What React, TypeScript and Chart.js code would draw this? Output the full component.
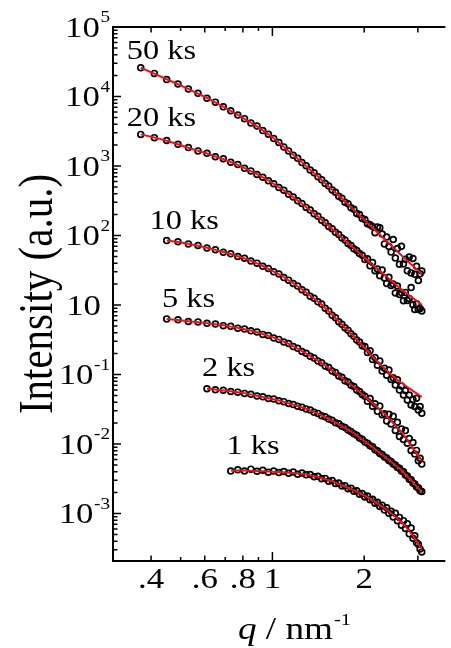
import React, { useEffect, useRef } from 'react';
import { Chart, registerables } from 'chart.js';

Chart.register(...registerables);

// q grid (nm^-1), shared by all series; shorter series are aligned to its end
const Q = [0.37, 0.41, 0.45, 0.49, 0.53, 0.57, 0.61, 0.65, 0.69, 0.73, 0.77, 0.81, 0.85, 0.89, 0.93, 0.97,
  1.01, 1.05, 1.09, 1.13, 1.17, 1.21, 1.25, 1.29, 1.33, 1.37, 1.41, 1.45, 1.49, 1.53, 1.57, 1.61, 1.65,
  1.69, 1.73, 1.77, 1.81, 1.85, 1.89, 1.93, 1.97, 2.01, 2.05, 2.09, 2.13, 2.17, 2.21, 2.25, 2.29, 2.33,
  2.37, 2.41, 2.45, 2.49, 2.53, 2.57, 2.61, 2.65, 2.69, 2.73, 2.77, 2.81, 2.85, 2.89, 2.93, 2.97, 3.01,
  3.05, 3.09];

const OBS_50 = [25900, 21500, 17500, 15100, 12800, 11100, 9450, 8300, 7100, 6250,
  5400, 4800, 4170, 3750, 3230, 2870, 2490, 2180, 1870, 1650,
  1430, 1290, 1120, 1010, 875, 800, 700, 635, 560, 515,
  450, 420, 368, 345, 302, 287, 250, 238, 208, 200,
  176, 170, 148, 143, 135, 110, 133, 129, 105, 75.7,
  95, 69.6, 57.7, 87.8, 47.3, 64.9, 38.6, 70.1, 39.0, 45.7,
  31.0, 49.1, 29.0, 46.8, 27.6, 36.2, 22.5, 28.1, 30.8];
const FIT_50 = [25900, 21300, 17700, 15000, 12900, 11000, 9510, 8260, 7160, 6220,
  5430, 4780, 4200, 3720, 3250, 2850, 2510, 2160, 1880, 1640,
  1450, 1270, 1130, 1000, 885, 791, 706, 629, 566, 508,
  457, 414, 374, 340, 308, 281, 256, 233, 213, 196,
  180, 165, 152, 140, 129, 120, 111, 103, 95.5, 89.1,
  82.8, 77.3, 72.1, 67.5, 63.0, 59.0, 55.2, 51.9, 48.8, 45.7,
  43.1, 40.9, 38.6, 36.6, 34.5, 32.9, 31.2, 29.6, 28.0];

const OBS_20 = [2850, 2560, 2330, 2050, 1840, 1650, 1520, 1360, 1270, 1130,
  1050, 925, 850, 755, 690, 615, 555, 490, 447, 393,
  358, 317, 289, 254, 233, 206, 189, 166, 153, 135,
  125, 111, 103, 92, 86, 77, 72, 64.5, 61, 55,
  52, 45.0, 46.2, 36.6, 40.8, 31.2, 33.0, 26.4, 31.9, 24.5,
  20.4, 25.1, 19.1, 20.1, 14.9, 18.8, 14.2, 15.1, 11.5, 15.2,
  11.6, 12.4, 17.8, 10.1, 8.6, 10.4, 8.6, 8.9, 8.2];
const FIT_20 = [2850, 2580, 2310, 2060, 1830, 1660, 1510, 1370, 1260, 1140,
  1040, 933, 845, 762, 686, 621, 552, 495, 444, 397,
  356, 320, 287, 257, 231, 208, 187, 168, 152, 137,
  124, 113, 102, 93.3, 84.9, 78.0, 71.3, 65.5, 60.3, 55.6,
  51.4, 47.4, 44.0, 40.7, 37.8, 35.5, 33.0, 31.0, 29.0, 27.2,
  25.5, 23.9, 22.5, 21.2, 19.9, 18.8, 17.7, 16.8, 16.0, 15.2,
  14.5, 13.8, 13.2, 12.6, 12.0, 11.5, 11.0, 10.5, 10.0];

const OBS_10 = [84.5, 81.5, 75.8, 71.8, 66, 62.5, 57.5, 54.5, 50, 47,
  43, 40, 36, 33.5, 30, 27.9, 24.8, 22.8, 20.4, 18.7,
  16.6, 15.3, 13.4, 12.5, 11.1, 10.3, 9.0, 8.2, 7.1, 6.55,
  5.75, 5.3, 4.7, 4.35, 3.85, 3.55, 3.15, 2.93, 2.6,
  2.52, 2.08, 2.20, 1.65, 1.76, 1.36, 1.56, 1.12, 1.23, 0.98,
  1.16, 0.85, 0.895, 0.705, 0.839, 0.60, 0.686, 0.507, 0.588, 0.43,
  0.506, 0.364, 0.436, 0.346, 0.456, 0.309, 0.347, 0.277];
const FIT_10 = [84.5, 80.9, 76.2, 71.3, 66.5, 62.1, 57.9, 54.2, 50.4, 46.7,
  43.3, 39.7, 36.4, 33.2, 30.3, 27.7, 25.1, 22.6, 20.6, 18.5,
  16.8, 15.1, 13.6, 12.4, 11.2, 10.2, 9.08, 8.09, 7.23, 6.49,
  5.82, 5.26, 4.74, 4.30, 3.90, 3.52, 3.19, 2.90, 2.63, 2.40,
  2.19, 2.00, 1.83, 1.68, 1.54, 1.42, 1.32, 1.23, 1.15, 1.07,
  1.00, 0.942, 0.881, 0.839, 0.798, 0.762, 0.724, 0.692, 0.661, 0.632,
  0.607, 0.581, 0.558, 0.536, 0.515, 0.495, 0.477];

const OBS_5 = [6.31, 6.15, 5.8, 5.72, 5.45, 5.33, 5.05, 4.93, 4.65, 4.52,
  4.25, 4.1, 3.78, 3.65, 3.36, 3.2, 2.93, 2.8, 2.52, 2.38,
  2.14, 2.02, 1.83, 1.73, 1.56, 1.48, 1.33, 1.26, 1.12, 1.07,
  0.955, 0.91, 0.815, 0.78, 0.70, 0.67, 0.60, 0.57, 0.515,
  0.485, 0.414, 0.452, 0.349, 0.379, 0.295, 0.351, 0.263, 0.272, 0.215,
  0.268, 0.194, 0.250, 0.157, 0.206, 0.128, 0.164, 0.116, 0.156, 0.103,
  0.120, 0.0808, 0.105, 0.0718, 0.0809, 0.0575, 0.0622, 0.0514];
const FIT_5 = [6.31, 6.08, 5.86, 5.67, 5.49, 5.29, 5.11, 4.89, 4.71, 4.49,
  4.29, 4.06, 3.83, 3.61, 3.40, 3.17, 2.96, 2.77, 2.55, 2.35,
  2.17, 2.00, 1.85, 1.71, 1.58, 1.46, 1.35, 1.24, 1.14, 1.05,
  0.970, 0.897, 0.828, 0.767, 0.711, 0.661, 0.611, 0.564, 0.522, 0.485,
  0.450, 0.419, 0.388, 0.361, 0.335, 0.313, 0.292, 0.272, 0.253, 0.233,
  0.216, 0.200, 0.185, 0.172, 0.160, 0.149, 0.137, 0.125, 0.114, 0.104,
  0.0951, 0.0873, 0.0798, 0.0735, 0.0676, 0.0622, 0.0571];

const OBS_2 = [0.625, 0.603, 0.594, 0.57, 0.558, 0.535, 0.521, 0.49, 0.477, 0.452,
  0.445, 0.42, 0.407, 0.382, 0.371, 0.35, 0.339, 0.32, 0.308, 0.287,
  0.276, 0.256, 0.246, 0.229, 0.219, 0.203, 0.195, 0.18, 0.173, 0.159,
  0.152, 0.141, 0.134, 0.122, 0.117, 0.107, 0.103, 0.0945, 0.091, 0.083,
  0.08, 0.073, 0.0708, 0.065, 0.0632, 0.0578, 0.056, 0.0515, 0.05, 0.0458,
  0.0448, 0.041, 0.0398, 0.0358, 0.0346, 0.0312, 0.0305, 0.0275, 0.0266, 0.0241,
  0.0235, 0.0213, 0.0207];
const FIT_2 = [0.622, 0.607, 0.590, 0.573, 0.556, 0.540, 0.518, 0.495, 0.474, 0.457,
  0.442, 0.424, 0.404, 0.385, 0.369, 0.353, 0.337, 0.323, 0.306, 0.290,
  0.274, 0.259, 0.244, 0.231, 0.217, 0.205, 0.193, 0.182, 0.171, 0.161,
  0.151, 0.143, 0.133, 0.124, 0.116, 0.109, 0.102, 0.0962, 0.0899, 0.0845,
  0.0793, 0.0746, 0.0701, 0.0664, 0.0625, 0.0589, 0.0555, 0.0524, 0.0494, 0.0467,
  0.0443, 0.0420, 0.0393, 0.0366, 0.0342, 0.0320, 0.0301, 0.0281, 0.0263, 0.0247,
  0.0232, 0.0218, 0.0205];

const OBS_1 = [0.0408, 0.0425, 0.041, 0.0435, 0.0405, 0.042, 0.0392, 0.041, 0.0388, 0.0402,
  0.038, 0.0395, 0.0368, 0.0383, 0.036, 0.0364, 0.0338, 0.0343, 0.0316, 0.032,
  0.0292, 0.0298, 0.0271, 0.0274, 0.0249, 0.0252, 0.0228, 0.0232, 0.0209, 0.0212,
  0.019, 0.0194, 0.0173, 0.0179, 0.0158, 0.016, 0.0141, 0.0145, 0.0126, 0.0132,
  0.0112, 0.0121, 0.0101, 0.0108, 0.0089, 0.0101, 0.0079, 0.0088, 0.0068, 0.0079,
  0.0061, 0.0071, 0.0051, 0.0062, 0.0044, 0.0048, 0.0038, 0.0036, 0.0031, 0.0028];
const FIT_1 = [0.0416, 0.0416, 0.0416, 0.0414, 0.0410, 0.0406, 0.0402, 0.0398, 0.0395, 0.0392,
  0.0387, 0.0383, 0.0378, 0.0372, 0.0366, 0.0356, 0.0345, 0.0335, 0.0324, 0.0313,
  0.0301, 0.0290, 0.0279, 0.0267, 0.0256, 0.0245, 0.0235, 0.0226, 0.0216, 0.0206,
  0.0197, 0.0188, 0.0180, 0.0172, 0.0164, 0.0155, 0.0147, 0.0139, 0.0132, 0.0126,
  0.0120, 0.0114, 0.0107, 0.0101, 0.00962, 0.00908, 0.00853, 0.00798, 0.00750, 0.00702,
  0.00659, 0.00607, 0.00560, 0.00518, 0.00478, 0.00436, 0.00397, 0.00361, 0.00330, 0.00300];

const SERIES_NAMES = ['50 ks', '20 ks', '10 ks', '5 ks', '2 ks', '1 ks'];
const SERIES_OBS = [OBS_50, OBS_20, OBS_10, OBS_5, OBS_2, OBS_1];
const SERIES_FIT = [FIT_50, FIT_20, FIT_10, FIT_5, FIT_2, FIT_1];
// label anchors (left edge q, vertical centre intensity)
const LABEL_Q = [0.333, 0.333, 0.395, 0.434, 0.588, 0.707];
const LABEL_I = [4.67e4, 5.07e3, 167, 12.6, 1.28, 0.0968];

const Y_TICK_VALUES = [1e5, 1e4, 1e3, 1e2, 1e1, 1e0, 1e-1, 1e-2];
const Y_TICK_EXPONENTS = ['5', '4', '3', '2', '', '-1', '-2', '-3'];
const X_TICK_VALUES = [0.4, 0.5, 0.6, 0.7, 0.8, 0.9, 1, 2, 3];
const X_TICK_LABELS = ['.4', '', '.6', '', '.8', '', '1', '2', ''];

const X_MIN = 0.305;
const X_MAX = 3.69;
const Y_MIN = 2.075e-3;
const Y_MAX = 1e5;

const SERIF = '"Liberation Serif", "Times New Roman", serif';
const SX = 1.2;
const INK = '#000000';
const RED = '#e8141c';

function setFont(ctx: CanvasRenderingContext2D, size: number, italic = false) {
  ctx.font = `${italic ? 'italic ' : ''}${size}px ${SERIF}`;
}
function textW(ctx: CanvasRenderingContext2D, s: string, size: number, italic = false) {
  ctx.save();
  setFont(ctx, size, italic);
  const w = ctx.measureText(s).width * SX;
  ctx.restore();
  return w;
}
function txt(ctx: CanvasRenderingContext2D, s: string, x: number, y: number, size: number,
  align: CanvasTextAlign, italic = false) {
  ctx.save();
  setFont(ctx, size, italic);
  ctx.textAlign = align;
  ctx.textBaseline = 'alphabetic';
  ctx.fillStyle = INK;
  ctx.translate(x, y);
  ctx.scale(SX, 1);
  ctx.fillText(s, 0, 0);
  ctx.restore();
}

const overlay = {
  id: 'overlay',
  afterDraw(chart: any) {
    const ctx: CanvasRenderingContext2D = chart.ctx;
    const ca = chart.chartArea;
    const xs = chart.scales.x;
    const ys = chart.scales.y;
    ctx.save();
    ctx.strokeStyle = INK;
    ctx.lineWidth = 2;
    ctx.beginPath();
    ctx.moveTo(ca.left - 1, ca.top); ctx.lineTo(ca.right, ca.top);
    ctx.moveTo(ca.left, ca.top); ctx.lineTo(ca.left, ca.bottom);
    ctx.moveTo(ca.left - 1, ca.bottom); ctx.lineTo(ca.right, ca.bottom);
    ctx.stroke();

    ctx.lineWidth = 1.5;
    ctx.beginPath();
    for (let e = -3; e <= 5; e++) {
      for (let m = 1; m <= 9; m++) {
        const v = m * Math.pow(10, e);
        if (v < Y_MIN || v > Y_MAX * 1.0001) continue;
        const y = ys.getPixelForValue(v);
        const len = m === 1 ? 8 : 4.5;
        ctx.moveTo(ca.left, y); ctx.lineTo(ca.left + len, y);
      }
    }
    X_TICK_VALUES.forEach((v, i) => {
      const x = xs.getPixelForValue(v);
      const len = v === 1 ? 9 : (X_TICK_LABELS[i] || v === 3) ? 5.5 : 4;
      ctx.moveTo(x, ca.bottom); ctx.lineTo(x, ca.bottom - len);
      ctx.moveTo(x, ca.top); ctx.lineTo(x, ca.top + len);
    });
    ctx.stroke();

    // y tick labels
    const base = 29, sup = 16;
    Y_TICK_VALUES.forEach((v, i) => {
      const y = ys.getPixelForValue(v);
      const ex = Y_TICK_EXPONENTS[i];
      if (ex) {
        const sw = textW(ctx, ex, sup);
        const right = ca.left - 3;
        txt(ctx, ex, right - sw, y - 5, sup, 'left');
        txt(ctx, '10', right - sw - 0.5, y + base * 0.34, base, 'right');
      } else {
        txt(ctx, '10', ca.left - 12, y + base * 0.34, base, 'right');
      }
    });

    // x tick labels
    X_TICK_VALUES.forEach((v, i) => {
      const lab = X_TICK_LABELS[i];
      if (!lab) return;
      const x = xs.getPixelForValue(v);
      txt(ctx, lab, x, ca.bottom + 27, base, 'center');
    });

    // series labels
    SERIES_NAMES.forEach((name, i) => {
      const x = xs.getPixelForValue(LABEL_Q[i]);
      const y = ys.getPixelForValue(LABEL_I[i]);
      txt(ctx, name, x, y + 27 * 0.34, 27, 'left');
    });

    // x title: q / nm^-1
    const ts = 31;
    const w1 = textW(ctx, 'q', ts, true);
    const w2 = textW(ctx, ' / nm', ts);
    const w3 = textW(ctx, '-1', 17);
    const cx = 294;
    const start = cx - (w1 + w2 + w3) / 2;
    const by = 639;
    txt(ctx, 'q', start, by, ts, 'left', true);
    txt(ctx, ' / nm', start + w1, by, ts, 'left');
    txt(ctx, '-1', start + w1 + w2 + 1, by - 14, 17, 'left');

    // y title
    ctx.save();
    setFont(ctx, 41);
    ctx.fillStyle = INK;
    ctx.textAlign = 'center';
    ctx.textBaseline = 'alphabetic';
    ctx.translate(52, 294);
    ctx.scale(SX, 1);
    ctx.rotate(-Math.PI / 2);
    ctx.fillText('Intensity (a.u.)', 0, 0);
    ctx.restore();

    ctx.restore();
  },
};

export default function App() {
  const ref = useRef<HTMLCanvasElement | null>(null);
  useEffect(() => {
    document.body.style.margin = '0';
    const canvas = ref.current;
    if (!canvas) return;
    const toPoints = (arr: number[]) => {
      const off = Q.length - arr.length;
      return arr.map((v, i) => ({ x: Q[i + off], y: v }));
    };
    const datasets: any[] = [];
    SERIES_NAMES.forEach((name, i) => {
      datasets.push({
        type: 'line',
        label: name + ' fit',
        data: toPoints(SERIES_FIT[i]),
        borderColor: RED,
        borderWidth: 2,
        pointRadius: 0,
        fill: false,
        tension: 0,
        order: 0,
      });
      datasets.push({
        type: 'scatter',
        label: name,
        data: toPoints(SERIES_OBS[i]),
        showLine: false,
        pointRadius: 2.9,
        pointBorderWidth: 1.7,
        pointBorderColor: INK,
        pointBackgroundColor: 'rgba(255,255,255,0)',
        order: 1,
      });
    });
    const chart = new Chart(canvas, {
      type: 'scatter',
      data: { datasets },
      options: {
        responsive: false,
        animation: false,
        devicePixelRatio: 1,
        events: [],
        layout: { padding: { top: 27, left: 0, right: 0, bottom: 0 } },
        plugins: { legend: { display: false }, tooltip: { enabled: false } },
        scales: {
          x: {
            type: 'logarithmic', min: X_MIN, max: X_MAX,
            grid: { display: false }, border: { display: false }, ticks: { display: false },
            afterFit: (s: any) => { s.height = 87; },
          },
          y: {
            type: 'logarithmic', min: Y_MIN, max: Y_MAX,
            grid: { display: false }, border: { display: false }, ticks: { display: false },
            afterFit: (s: any) => { s.width = 113; },
          },
        },
      } as any,
      plugins: [overlay],
    });
    return () => chart.destroy();
  }, []);
  return (
    <div style={{ width: 451, height: 648, background: '#fff' }}>
      <canvas ref={ref} width={451} height={648} style={{ display: 'block', width: 451, height: 648 }} />
    </div>
  );
}
